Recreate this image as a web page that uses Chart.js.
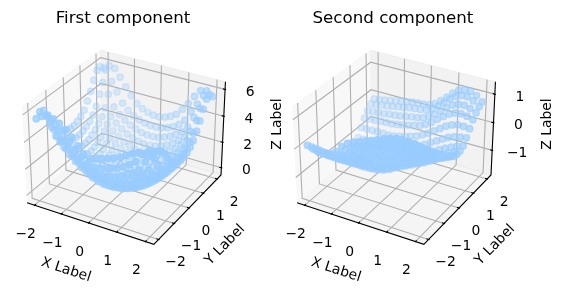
<!DOCTYPE html>
<html>
<head>
<meta charset="utf-8">
<style>
body { margin: 0; background: #fff; }
canvas { position: absolute; top: 0; }
</style>
<script src="https://cdn.jsdelivr.net/npm/chart.js@4"></script>
</head>
<body>
<canvas id="first" width="290" height="296" style="left:0"></canvas>
<canvas id="second" width="297" height="296" style="left:270px"></canvas>
<script>
var gridX = [-2, -1.79, -1.58, -1.37, -1.16, -0.95, -0.74, -0.53, -0.32, -0.11, 0.11, 0.32, 0.53, 0.74, 0.95, 1.16, 1.37, 1.58, 1.79, 2];
var gridY = [-2, -1.79, -1.58, -1.37, -1.16, -0.95, -0.74, -0.53, -0.32, -0.11, 0.11, 0.32, 0.53, 0.74, 0.95, 1.16, 1.37, 1.58, 1.79, 2];

// rows follow gridY, columns follow gridX
var firstZ = [
  [5.6,5.9,6.0,5.95,5.75,5.4,5.0,4.5,4.05,3.85,3.95,4.1,4.25,4.4,4.6,4.85,5.1,5.3,5.35,5.3],
  [5.9,5.75,5.03,4.87,4.61,4.27,3.9,3.49,3.13,2.96,3.03,3.16,3.31,3.47,3.69,3.96,4.3,5.0,5.3,5.4],
  [5.8,5.0,4.17,3.9,3.59,3.25,2.92,2.58,2.3,2.17,2.22,2.32,2.46,2.64,2.88,3.17,3.5,4.2,5.0,5.2],
  [5.25,4.3,3.5,3.12,2.78,2.44,2.14,1.86,1.64,1.54,1.56,1.65,1.79,1.98,2.23,2.54,2.9,3.4,4.3,5.0],
  [4.6,3.55,2.9,2.47,2.09,1.76,1.47,1.24,1.08,1.0,1.01,1.09,1.22,1.41,1.68,2.0,2.38,2.9,3.55,4.6],
  [4.05,3.1,2.54,2.08,1.68,1.35,1.08,.88,.75,.68,.68,.75,.88,1.08,1.35,1.68,2.08,2.54,3.1,4.05],
  [3.55,2.81,2.28,1.81,1.41,1.08,.81,.62,.48,.42,.42,.48,.62,.81,1.08,1.41,1.81,2.28,2.81,3.55],
  [3.28,2.61,2.08,1.61,1.21,.88,.62,.42,.28,.22,.22,.28,.42,.62,.88,1.21,1.61,2.08,2.61,3.28],
  [3.1,2.48,1.94,1.48,1.08,.75,.48,.28,.15,.08,.08,.15,.28,.48,.75,1.08,1.48,1.94,2.48,3.1],
  [3.0,2.41,1.88,1.41,1.01,.68,.42,.22,.08,.02,.02,.08,.22,.42,.68,1.01,1.41,1.88,2.41,3.0],
  [3.0,2.41,1.88,1.41,1.01,.68,.42,.22,.08,.02,.02,.08,.22,.42,.68,1.01,1.41,1.88,2.41,3.0],
  [3.1,2.48,1.94,1.48,1.08,.75,.48,.28,.15,.08,.08,.15,.28,.48,.75,1.08,1.48,1.94,2.48,3.1],
  [3.28,2.61,2.08,1.61,1.21,.88,.62,.42,.28,.22,.22,.28,.42,.62,.88,1.21,1.61,2.08,2.61,3.28],
  [3.55,2.81,2.28,1.81,1.41,1.08,.81,.62,.48,.42,.42,.48,.62,.81,1.08,1.41,1.81,2.28,2.81,3.55],
  [4.05,3.1,2.54,2.08,1.68,1.35,1.08,.88,.75,.68,.68,.75,.88,1.08,1.35,1.68,2.08,2.54,3.1,4.05],
  [4.6,3.55,2.88,2.41,2.01,1.68,1.41,1.21,1.08,1.01,1.01,1.08,1.21,1.41,1.68,2.01,2.41,2.88,3.55,4.6],
  [5.25,4.3,3.35,2.81,2.41,2.08,1.81,1.61,1.48,1.41,1.41,1.48,1.61,1.81,2.08,2.41,2.81,3.35,4.3,5.25],
  [5.8,5.0,4.2,3.35,2.88,2.54,2.28,2.08,1.94,1.88,1.88,1.94,2.08,2.28,2.54,2.88,3.35,4.2,5.0,5.8],
  [5.9,5.75,5.0,4.3,3.55,3.1,2.81,2.61,2.48,2.41,2.41,2.48,2.61,2.81,3.1,3.55,4.3,5.0,5.75,5.9],
  [5.6,5.9,5.8,5.25,4.6,4.05,3.55,3.28,3.1,3.0,3.0,3.1,3.28,3.55,4.05,4.6,5.25,5.8,5.9,5.6]
];
var secondZ = [
  [.07,0,-.05,-.05,0,.15,.38,.55,.65,.72,.8,.88,.96,1.05,1.13,1.18,1.2,1.2,1.18,1.12],
  [-.09,-.16,-.2,-.21,-.16,-.04,.17,.32,.42,.5,.58,.66,.74,.84,.92,.98,1.01,1.02,1.01,.97],
  [-.24,-.3,-.34,-.35,-.31,-.21,-.03,.12,.22,.3,.38,.46,.55,.64,.72,.79,.83,.85,.86,.83],
  [-.4,-.45,-.49,-.5,-.48,-.39,-.24,-.11,-.01,.07,.16,.25,.33,.43,.51,.58,.64,.67,.69,.68],
  [-.57,-.61,-.65,-.66,-.64,-.58,-.45,-.33,-.23,-.15,-.06,.03,.12,.21,.3,.38,.44,.49,.52,.53],
  [-.71,-.75,-.79,-.8,-.79,-.75,-.64,-.54,-.44,-.35,-.26,-.17,-.08,.02,.11,.19,.27,.33,.37,.39],
  [-.86,-.89,-.93,-.94,-.94,-.92,-.84,-.74,-.64,-.55,-.46,-.37,-.27,-.18,-.09,.01,.09,.16,.22,.26],
  [-1.01,-1.04,-1.06,-1.09,-1.09,-1.09,-1.03,-.95,-.85,-.75,-.66,-.57,-.47,-.37,-.28,-.18,-.08,0,.06,.12],
  [-1.14,-1.16,-1.19,-1.21,-1.23,-1.24,-1.2,-1.13,-1.03,-.94,-.84,-.74,-.65,-.55,-.45,-.35,-.24,-.15,-.07,0],
  [-1.26,-1.28,-1.3,-1.33,-1.35,-1.38,-1.36,-1.29,-1.19,-1.1,-1,-.9,-.8,-.7,-.61,-.49,-.38,-.28,-.2,-.11],
  [-1.37,-1.38,-1.4,-1.43,-1.45,-1.5,-1.49,-1.44,-1.34,-1.24,-1.14,-1.04,-.94,-.84,-.74,-.62,-.51,-.4,-.3,-.21],
  [-1.41,-1.42,-1.44,-1.47,-1.5,-1.55,-1.55,-1.5,-1.4,-1.3,-1.2,-1.1,-1,-.9,-.8,-.68,-.56,-.45,-.35,-.25],
  [-1.4,-1.41,-1.43,-1.46,-1.6,-1.68,-1.7,-1.62,-1.45,-1.29,-1.19,-1.09,-.99,-.88,-.78,-.66,-.54,-.43,-.34,-.24],
  [-1.3,-1.3,-1.32,-1.34,-1.36,-1.41,-1.4,-1.35,-1.26,-1.17,-1.07,-.97,-.87,-.76,-.65,-.53,-.42,-.32,-.23,-.16],
  [-1.08,-1.08,-1.08,-1.1,-1.11,-1.13,-1.12,-1.08,-1,-.92,-.84,-.74,-.62,-.5,-.38,-.25,-.14,-.06,-.01,.02],
  [-.81,-.8,-.8,-.79,-.79,-.8,-.78,-.73,-.67,-.61,-.54,-.44,-.32,-.18,-.04,.1,.2,.26,.26,.24],
  [-.56,-.54,-.52,-.5,-.49,-.48,-.45,-.41,-.36,-.32,-.26,-.16,-.03,.13,.29,.43,.52,.55,.52,.45],
  [-.39,-.36,-.34,-.32,-.29,-.27,-.24,-.2,-.16,-.13,-.08,.02,.16,.32,.5,.65,.73,.75,.69,.6],
  [-.23,-.19,-.17,-.13,-.1,-.06,-.03,.02,.04,.06,.1,.2,.35,.52,.71,.86,.94,.95,.86,.72],
  [-.14,-.1,-.07,-.03,.01,.05,.09,.13,.15,.16,.2,.3,.45,.63,.82,.98,1.05,1.05,.95,.79]
];

var xTicks = [-2, -1, 0, 1, 2];
var yTicks = [-2, -1, 0, 1, 2];
var firstZTicks = [0, 2, 4, 6];
var secondZTicks = [-1, 0, 1];
var xLim = [-2.2, 2.2];
var yLim = [-2.2, 2.2];
var firstZLim = [-0.43, 6.42];
var secondZLim = [-1.84, 1.36];

// same camera as a default mplot3d axes (elev 30, azim -60, dist 10)
var box = [1.1905, 1.1905, 0.8929];
var camU = [0.866, 0.5, 0];
var camV = [-0.25, 0.433, 0.866];
var camW = [0.433, -0.75, 0.5];

function dot(a, b) { return a[0] * b[0] + a[1] * b[1] + a[2] * b[2]; }

function project(x, y, z, zLim) {
  var p = [
    ((x - xLim[0]) / (xLim[1] - xLim[0]) - 0.5) * box[0],
    ((y - yLim[0]) / (yLim[1] - yLim[0]) - 0.5) * box[1],
    ((z - zLim[0]) / (zLim[1] - zLim[0]) - 0.5) * box[2]
  ];
  var depth = 10 - dot(camW, p);
  return { x: dot(camU, p) / depth, y: dot(camV, p) / depth, depth: depth };
}

function lineSet(points, color, width) {
  return { data: points, showLine: true, borderColor: color, borderWidth: width, pointRadius: 0, clip: false, fill: false };
}

function paneSet(points, color) {
  return { data: points, showLine: true, fill: "shape", backgroundColor: color, borderColor: color, borderWidth: 1, pointRadius: 0, clip: false };
}

function buildDatasets(zTable, zLim, zTicks) {
  var pad = (xLim[1] - xLim[0]) / 48, padZ = (zLim[1] - zLim[0]) / 48;
  var x0 = xLim[0] - pad, x1 = xLim[1] + pad;
  var y0 = yLim[0] - pad, y1 = yLim[1] + pad;
  var z0 = zLim[0] - padZ, z1 = zLim[1] + padZ;
  var tickX = (x1 - x0) / 12.5, tickZ = tickX;
  var P = function (x, y, z) { return project(x, y, z, zLim); };
  var sets = [];

  sets.push(paneSet([P(x0, y0, z0), P(x0, y1, z0), P(x0, y1, z1), P(x0, y0, z1)], "rgba(242,242,242,0.5)"));
  sets.push(paneSet([P(x0, y1, z0), P(x1, y1, z0), P(x1, y1, z1), P(x0, y1, z1)], "rgba(230,230,230,0.5)"));
  sets.push(paneSet([P(x0, y0, z0), P(x1, y0, z0), P(x1, y1, z0), P(x0, y1, z0)], "rgba(236,236,236,0.5)"));

  xTicks.forEach(function (t) {
    sets.push(lineSet([P(t, y0, z0), P(t, y1, z0), P(t, y1, z1)], "#b0b0b0", 1.1));
  });
  yTicks.forEach(function (t) {
    sets.push(lineSet([P(x1, t, z0), P(x0, t, z0), P(x0, t, z1)], "#b0b0b0", 1.1));
  });
  zTicks.forEach(function (t) {
    sets.push(lineSet([P(x0, y0, t), P(x0, y1, t), P(x1, y1, t)], "#b0b0b0", 1.1));
  });

  sets.push(lineSet([P(x0, y0, z0), P(x1, y0, z0), P(x1, y1, z0), P(x1, y1, z1)], "#000", 1.1));
  xTicks.forEach(function (t) {
    sets.push(lineSet([P(t, y0 - tickX * 0.1, z0), P(t, y0 + tickX * 0.2, z0)], "#000", 1.1));
  });
  yTicks.forEach(function (t) {
    sets.push(lineSet([P(x1 + tickX * 0.1, t, z0), P(x1 - tickX * 0.2, t, z0)], "#000", 1.1));
  });
  zTicks.forEach(function (t) {
    sets.push(lineSet([P(x1 + tickZ * 0.1, y1, t), P(x1 - tickZ * 0.2, y1, t)], "#000", 1.1));
  });

  var cloud = [];
  gridY.forEach(function (y, r) {
    gridX.forEach(function (x, c) {
      cloud.push(P(x, y, zTable[r][c]));
    });
  });
  cloud.sort(function (a, b) { return b.depth - a.depth; });
  var near = cloud[cloud.length - 1].depth, far = cloud[0].depth;
  var shades = cloud.map(function (p) {
    return "rgba(153,204,255," + (1 - 0.7 * (p.depth - near) / (far - near)).toFixed(3) + ")";
  });
  sets.push({ data: cloud, pointRadius: 3.2, pointBorderWidth: 1.4, pointBackgroundColor: shades, pointBorderColor: shades, clip: false });
  // Chart.js paints the first dataset last, so the cloud has to come first
  return sets.reverse();
}

function drawText(ctx, text, x, y, font, angle) {
  ctx.save();
  ctx.translate(x, y);
  ctx.rotate((angle || 0) * Math.PI / 180);
  ctx.font = font;
  ctx.fillStyle = "#000";
  ctx.textAlign = "center";
  ctx.textBaseline = "middle";
  ctx.fillText(text, 0, 0);
  ctx.restore();
}

function minus(v) { return v < 0 ? "\u2212" + Math.abs(v) : String(v); }

var tickFont = '13.9px "DejaVu Sans"';

function labelPlugin(title, zLim, zTicks) {
  return {
    id: "labels3d",
    afterDraw: function (chart) {
      var ctx = chart.ctx, sx = chart.scales.x, sy = chart.scales.y;
      var pad = (xLim[1] - xLim[0]) / 48, padZ = (zLim[1] - zLim[0]) / 48;
      var place = function (p, dx, dy, v) {
        drawText(ctx, minus(v), sx.getPixelForValue(p.x) + dx, sy.getPixelForValue(p.y) + dy, tickFont);
      };
      xTicks.forEach(function (t) { place(project(t, yLim[0] - pad, zLim[0] - padZ, zLim), -9, 29, t); });
      yTicks.forEach(function (t) { place(project(xLim[1] + pad, t, zLim[0] - padZ, zLim), 17, 23, t); });
      zTicks.forEach(function (t) { place(project(xLim[1] + pad, yLim[1] + pad, t, zLim), 25, 3, t); });
      var mid = (chart.chartArea.left + chart.chartArea.right) / 2;
      drawText(ctx, title, mid, 19, '16.67px "DejaVu Sans"');
      drawText(ctx, "X Label", 66, 270, tickFont, 18);
      drawText(ctx, "Y Label", 225, 245, tickFont, -45.7);
      drawText(ctx, "Z Label", 277, 124, tickFont, -90);
    }
  };
}

function makeChart(id, title, zTable, zLim, zTicks, rightPad) {
  new Chart(id, {
    type: "scatter",
    data: { datasets: buildDatasets(zTable, zLim, zTicks) },
    plugins: [labelPlugin(title, zLim, zTicks)],
    options: {
      responsive: false,
      animation: false,
      layout: { padding: { left: 14.6, top: 37, right: rightPad, bottom: 42.3 } },
      plugins: { legend: { display: false }, tooltip: { enabled: false } },
      scales: {
        x: { type: "linear", display: false, min: -0.095, max: 0.09 },
        y: { type: "linear", display: false, min: -0.095, max: 0.09 }
      }
    }
  });
}

makeChart("first", "First component", firstZ, firstZLim, firstZTicks, 58.7);
makeChart("second", "Second component", secondZ, secondZLim, secondZTicks, 65.7);
</script>
</body>
</html>
